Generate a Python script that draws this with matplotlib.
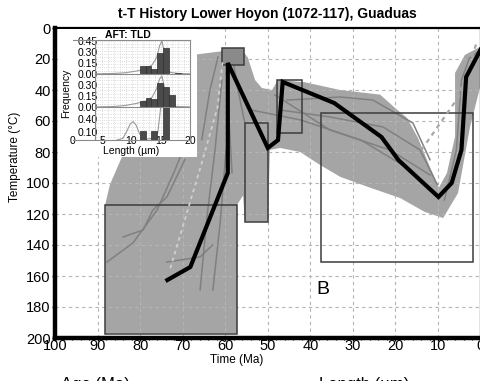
import matplotlib
matplotlib.use("Agg")
import matplotlib.pyplot as plt
from matplotlib.patches import Rectangle
from matplotlib.ticker import MultipleLocator
import numpy as np

plt.rcParams['font.family'] = ['Liberation Sans', 'DejaVu Sans']

# outline of the envelope of accepted t-T paths (time Ma, temperature C)
env_time = [88.2, 88.2, 87.1, 83.6, 75.3, 66.6, 60.8, 56.1, 54.7, 53.0, 51.4, 49.0,
            47.6, 41.3, 33.0, 23.6, 20.1, 17.3, 14.7, 11.9, 9.8, 7.9, 6.0, 6.0,
            3.7, 0.0, 0.0, 2.5, 5.3, 8.8, 13.1, 18.9, 26.0, 33.0, 37.7, 42.4,
            47.1, 49.5, 50.0, 55.4, 55.8, 57.2, 57.2]
env_temp = [197, 114, 101, 79, 46, 17, 15, 14, 19, 33.5, 38.7, 40,
            33.5, 35, 40, 43, 51.6, 58, 71, 89.7, 103, 93.5, 70, 29,
            17.4, 12, 37, 64, 106.5, 122.6, 118.7, 109.7, 103, 96, 88.4, 80,
            77.4, 78.7, 125, 125, 108, 114, 197]

# a few individual paths that stand out darker inside the envelope
dark_paths = [
    ([87.8, 81.7, 76.0, 71.8, 67.1], [151, 138.7, 117.4, 91.6, 59.4]),
    ([84.0, 79.3, 77.0, 73.7, 69.5], [134.8, 130.3, 117.4, 109, 85]),
    ([65.9, 64.3, 62.4, 60.8], [169, 122, 78.7, 33.5]),
    ([62.9, 61.2, 59.8], [169, 125.8, 78.7]),
    ([73.7, 65.9, 63.0], [151, 147.7, 140]),
    ([65.5, 63.6, 61.7], [72, 40, 18.7]),
    ([58.4, 59.1, 59.4], [93.5, 59.4, 20.6]),
    ([55.4, 57.0, 58.4], [61.3, 40, 17.4]),
    ([47.1, 35.4, 22.9, 14.2, 10.2], [52.9, 57.4, 63.9, 78.7, 101]),
    ([45.5, 33.0, 25.3, 15.9, 11.9], [46.5, 44.5, 46.5, 61.3, 85]),
    ([48.3, 35.4, 21.3, 11.9], [43.2, 65.8, 78.7, 94.8]),
    ([53.9, 42.2, 28.1, 16.4], [52.9, 59.4, 72.3, 91.6]),
    ([8.5, 5.7, 4.5, 2.6, 0.0], [111, 79, 33.5, 19.4, 14]),
]

# best fit path
best_time = [73.6, 68.2, 59.4, 59.4, 50.0, 47.6, 46.5, 34.4, 23.3, 19.3, 9.9, 6.8, 4.5, 3.4, 0.0]
best_temp = [162.6, 154.2, 93.5, 22.6, 77.4, 72.3, 34.8, 48.4, 70.3, 85.2, 109, 100, 78.7, 31.6, 14]

# weighted mean path (dashed, only partly visible)
mean_left_time = [72.9, 65.8, 61.8, 60.6]
mean_left_temp = [155, 89.7, 51, 20.6]
mean_right_time = [13.9, 5.2, 1.0]
mean_right_temp = [78.7, 44.5, 10]

# constraint boxes: old time, young time, top temp, bottom temp
box_old = [88.2, 60.8, 55.4, 47.8, 37.5]
box_young = [57.2, 55.6, 50.0, 42.0, 1.8]
box_top = [114.5, 12.9, 61.3, 33.5, 54.8]
box_bottom = [197.5, 23.9, 125.2, 67.7, 150.8]

# inset: AFT track length histograms (three stacked panels)
bin_left = [11.4, 12.4, 13.4, 14.4, 15.4, 16.4, 17.4]
top_freq = [0.10, 0.10, 0.072, 0.277, 0.35, 0.0, 0.014]
mid_freq = [0.082, 0.127, 0.113, 0.33, 0.27, 0.164, 0.0]
bot_freq = [0.123, 0.0, 0.123, 0.0, 0.45, 0.0, 0.0]
model_x = [4, 7, 9, 11, 12.5, 13.5, 14.3, 14.8, 15.2, 15.6, 16.0, 16.6, 18, 20]
top_model = [0.0, 0.005, 0.015, 0.04, 0.07, 0.12, 0.22, 0.38, 0.45, 0.30, 0.10, 0.02, 0.005, 0.0]
mid_model = [0.0, 0.005, 0.02, 0.05, 0.08, 0.13, 0.25, 0.38, 0.42, 0.28, 0.08, 0.02, 0.005, 0.0]
bot_model_x = [7.5, 8.5, 9.2, 9.8, 10.3, 10.8, 11.4, 12.2, 13.5, 14.5, 15.0]
bot_model = [0.0, 0.02, 0.12, 0.22, 0.25, 0.20, 0.08, 0.01, 0.02, 0.10, 0.45]
ins_ytick_pos = [1.35, 1.20, 1.05, 0.90, 0.75, 0.60, 0.45, 0.286, 0.109]
ins_ytick_lab = ['0.45', '0.30', '0.15', '0.00', '0.30', '0.15', '0.00', '0.40', '0.10']
PANEL = 0.45
FRAME_X = 3.7   # left edge of the gridded area of the inset
INS_TOP = 1.36

fig = plt.figure(figsize=(4.8, 3.81), dpi=100)
ax = fig.add_axes([55 / 480, 1 - 338 / 381, 425.6 / 480, 310 / 381])

ax.grid(True, color='#b5b5b5', ls=(0, (3, 3)), lw=0.8, zorder=0)
ax.fill(env_time, env_temp, color='#a5a5a5', lw=0, zorder=1)
for t, T in dark_paths:
    ax.plot(t, T, color='#808080', lw=1.1, zorder=2)

for i in range(len(box_old)):
    fc = '#8a8a8a' if i == 1 else 'none'
    ax.add_patch(Rectangle((box_young[i], box_top[i]), box_old[i] - box_young[i],
                           box_bottom[i] - box_top[i], fc=fc, ec='#3c3c3c', lw=1.1, zorder=3))

ax.plot(mean_left_time, mean_left_temp, color='#d0d0d0', lw=1.3, ls=(0, (2, 2)), zorder=3)
ax.plot(mean_right_time, mean_right_temp, color='#a8a8a8', lw=1.6, ls=(0, (2, 2)), zorder=3)
ax.plot(best_time, best_temp, color='black', lw=3.0, solid_joinstyle='miter', zorder=4)

ax.set_xlim(100, 0)
ax.set_ylim(200, 0)
ax.xaxis.set_major_locator(MultipleLocator(10))
ax.xaxis.set_minor_locator(MultipleLocator(2))
ax.yaxis.set_major_locator(MultipleLocator(20))
ax.yaxis.set_minor_locator(MultipleLocator(5))
ax.tick_params(labelsize=10.5, length=2, width=1)
ax.tick_params(axis='x', pad=-1)
ax.tick_params(axis='y', pad=1)
ax.tick_params(which='minor', length=1.5, width=0.8)
for s in ['left', 'bottom']:
    ax.spines[s].set_linewidth(3.2)
for s in ['top', 'right']:
    ax.spines[s].set_linewidth(1.6)

ax.set_title('t-T History Lower Hoyon (1072-117), Guaduas', fontsize=10,
             fontweight='bold', pad=7)
ax.set_ylabel('Temperature (°C)', fontsize=8.5)
ax.yaxis.set_label_coords(-0.08, 0.585)
ax.set_xlabel('Time (Ma)', fontsize=8.5, labelpad=0)
ax.xaxis.set_label_coords(0.428, -0.05)
ax.text(38.5, 169, 'B', fontsize=14, ha='left', va='center')

# white background behind the inset
ax.add_patch(Rectangle((58 / 480, 1 - 157 / 381), 139 / 480, 128 / 381, fc='white',
                       ec='none', transform=fig.transFigure, zorder=10))

ins = fig.add_axes([73 / 480, 1 - 140 / 381, 117 / 480, 100 / 381], zorder=6)
ins.set_xlim(0, 20)
ins.set_ylim(0, INS_TOP)
# dotted grid only over the plotting strip right of the tick labels
ins.vlines(np.arange(4, 20, 1.0), 0, INS_TOP, color='#cfcfcf', ls=':', lw=0.6, zorder=0.6)
ins.hlines(np.arange(0.045, INS_TOP, 0.045), FRAME_X, 20, color='#cfcfcf', ls=':',
           lw=0.6, zorder=0.6)
ins.axvline(FRAME_X, color='#8a8a8a', lw=0.8, zorder=4)
for base, freq in [(2 * PANEL, top_freq), (PANEL, mid_freq), (0, bot_freq)]:
    ins.bar(bin_left, freq, width=1.0, bottom=base, align='edge',
            color='#4a4a4a', edgecolor='#2e2e2e', lw=0.5, zorder=3)
ins.plot(model_x, np.array(top_model) + 2 * PANEL, color='#9a9a9a', lw=0.8, zorder=2)
ins.plot(model_x, np.array(mid_model) + PANEL, color='#9a9a9a', lw=0.8, zorder=2)
ins.plot(bot_model_x, bot_model, color='#9a9a9a', lw=0.8, zorder=2)
for b in [PANEL, 2 * PANEL]:
    ins.plot([FRAME_X, 20], [b, b], color='#8a8a8a', lw=0.8, zorder=4)
ins.set_xticks([0, 5, 10, 15, 20])
ins.set_yticks(ins_ytick_pos)
ins.set_yticklabels(ins_ytick_lab)
ins.tick_params(labelsize=7.5, length=0)
ins.tick_params(axis='x', pad=-3)
ins.tick_params(axis='y', pad=-3)
for lab in ins.get_yticklabels():
    lab.set_horizontalalignment('left')
ins.spines['left'].set_visible(False)
for s in ['top', 'right', 'bottom']:
    ins.spines[s].set_color('#8a8a8a')
    ins.spines[s].set_linewidth(0.8)
ins.set_title('AFT: TLD', fontsize=7.5, fontweight='bold', pad=0, x=0.47)
ins.set_ylabel('Frequency', fontsize=7.5)
ins.yaxis.set_label_coords(-0.015, 0.47)
ins.set_xlabel('Length (µm)', fontsize=7.5)
ins.xaxis.set_label_coords(0.5, -0.06)

# labels of the panel below, cut by the image edge
fig.text(95 / 480, 1 - 377 / 381, 'Age (Ma)', fontsize=12, ha='center', va='top')
fig.text(364 / 480, 1 - 377 / 381, 'Length (µm)', fontsize=12, ha='center', va='top')

fig.savefig('out.png', dpi=100)
